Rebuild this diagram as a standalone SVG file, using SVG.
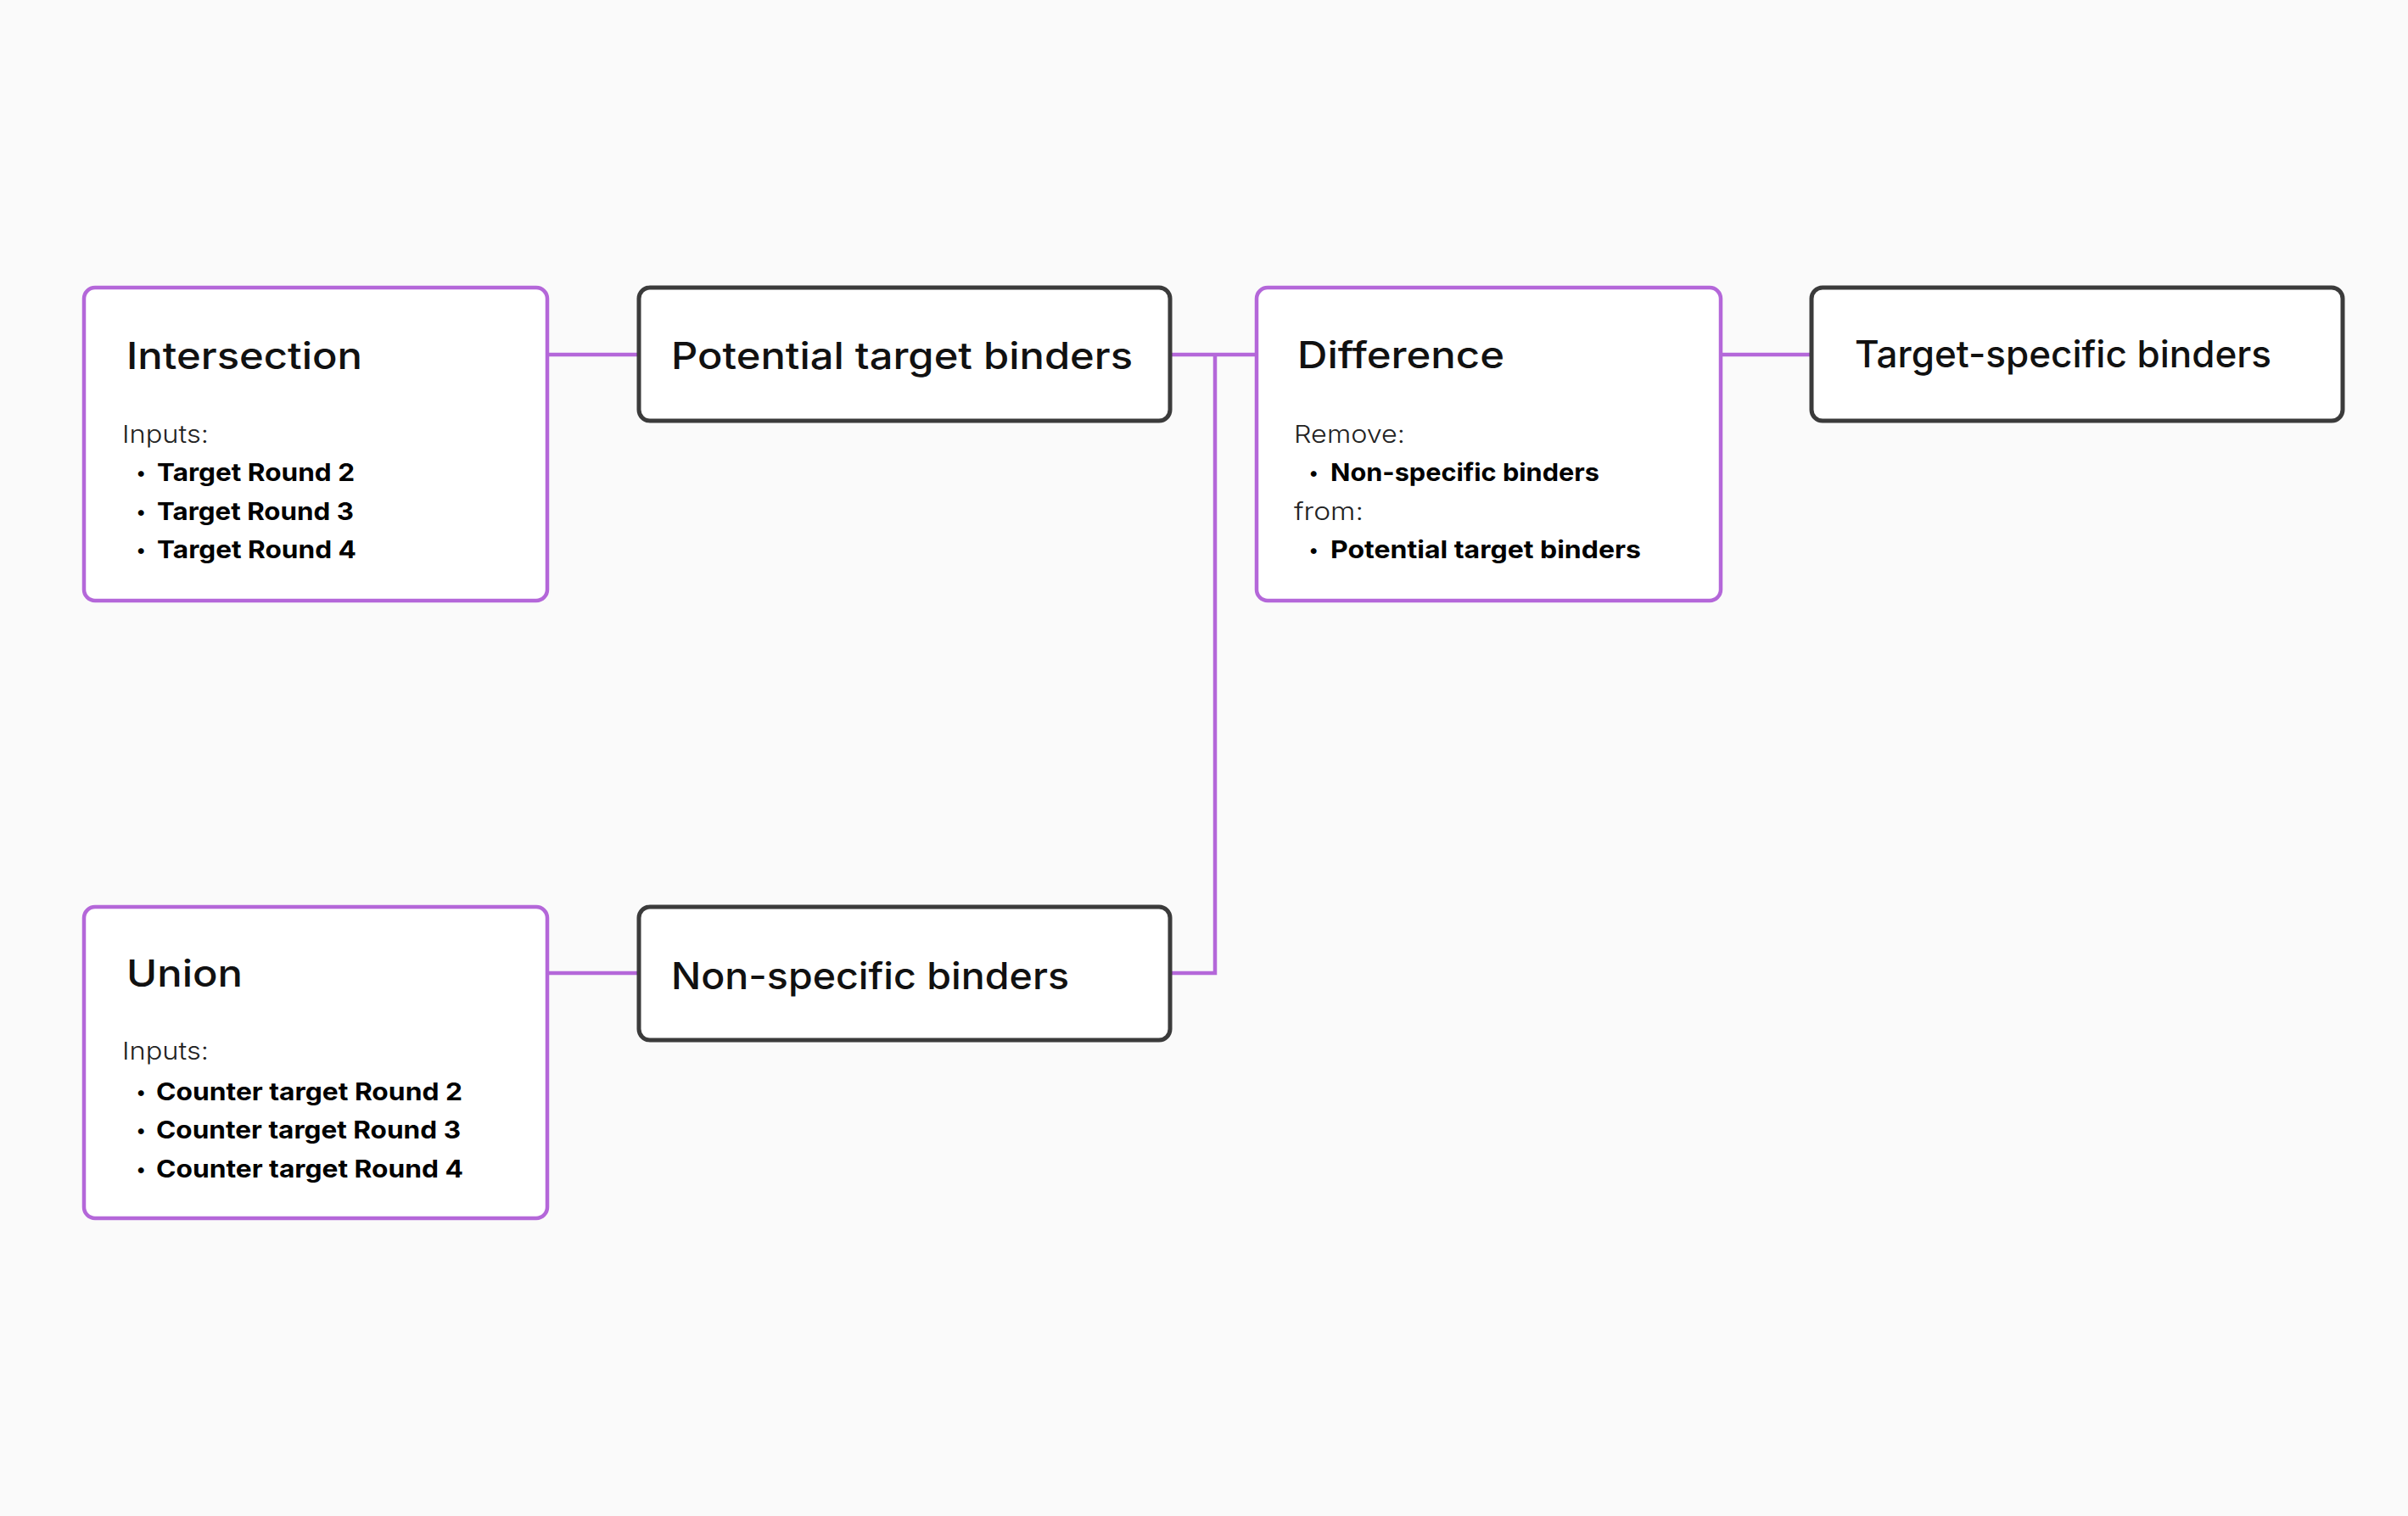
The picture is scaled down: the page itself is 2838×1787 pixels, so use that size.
<svg xmlns="http://www.w3.org/2000/svg" width="2838" height="1787" viewBox="0 0 2838 1787">
<style>
.op{fill:#ffffff;stroke:#b467d9;stroke-width:4.5}
.res{fill:#ffffff;stroke:#3b3b3b;stroke-width:5}
.conn{fill:none;stroke:#b467d9;stroke-width:4.5}
.title{font-family:Inter,"Open Sans","Liberation Sans",sans-serif;font-size:44px;font-weight:500;fill:#111}
.lbl{font-family:Inter,"Open Sans","Liberation Sans",sans-serif;font-size:29px;font-weight:300;fill:#222}
.item{font-family:Inter,"Open Sans","Liberation Sans",sans-serif;font-size:29px;font-weight:700;fill:#000}
.dot{font-family:Inter,"Open Sans","Liberation Sans",sans-serif;font-size:22px;font-weight:700;fill:#000}
</style>
<rect width="2838" height="1787" fill="#fafafa"/>
<g id="connectors">
<line class="conn" x1="645" y1="418" x2="753" y2="418"/>
<line class="conn" x1="1379" y1="418" x2="1481" y2="418"/>
<line class="conn" x1="2028" y1="418" x2="2135" y2="418"/>
<line class="conn" x1="645" y1="1147" x2="753" y2="1147"/>
<polyline class="conn" points="1379,1147 1432,1147 1432,418"/>
</g>
<g id="intersection">
<rect class="op" x="99" y="339" width="546" height="369" rx="13"/>
<text class="title" x="149" y="435" textLength="278" lengthAdjust="spacingAndGlyphs">Intersection</text>
<text class="lbl" x="144" y="522" textLength="102" lengthAdjust="spacingAndGlyphs">Inputs:</text>
<text class="dot" x="161" y="565">•</text>
<text class="item" x="185" y="567" textLength="233" lengthAdjust="spacingAndGlyphs">Target Round 2</text>
<text class="dot" x="161" y="611">•</text>
<text class="item" x="185" y="613" textLength="232" lengthAdjust="spacingAndGlyphs">Target Round 3</text>
<text class="dot" x="161" y="656">•</text>
<text class="item" x="185" y="658" textLength="235" lengthAdjust="spacingAndGlyphs">Target Round 4</text>
</g>
<g id="potential">
<rect class="res" x="753" y="339" width="626" height="157" rx="13"/>
<text class="title" x="791" y="435" textLength="544" lengthAdjust="spacingAndGlyphs">Potential target binders</text>
</g>
<g id="difference">
<rect class="op" x="1481" y="339" width="547" height="369" rx="13"/>
<text class="title" x="1529" y="434" textLength="244" lengthAdjust="spacingAndGlyphs">Difference</text>
<text class="lbl" x="1525" y="522" textLength="131" lengthAdjust="spacingAndGlyphs">Remove:</text>
<text class="dot" x="1543" y="565">•</text>
<text class="item" x="1568" y="567" textLength="317" lengthAdjust="spacingAndGlyphs">Non-specific binders</text>
<text class="lbl" x="1525" y="613" textLength="82" lengthAdjust="spacingAndGlyphs">from:</text>
<text class="dot" x="1543" y="656">•</text>
<text class="item" x="1568" y="658" textLength="366" lengthAdjust="spacingAndGlyphs">Potential target binders</text>
</g>
<g id="target-specific">
<rect class="res" x="2135" y="339" width="626" height="157" rx="13"/>
<text class="title" x="2186" y="433" textLength="491" lengthAdjust="spacingAndGlyphs">Target-specific binders</text>
</g>
<g id="union">
<rect class="op" x="99" y="1069" width="546" height="367" rx="13"/>
<text class="title" x="149" y="1163" textLength="137" lengthAdjust="spacingAndGlyphs">Union</text>
<text class="lbl" x="144" y="1249" textLength="102" lengthAdjust="spacingAndGlyphs">Inputs:</text>
<text class="dot" x="161" y="1295">•</text>
<text class="item" x="184" y="1297" textLength="361" lengthAdjust="spacingAndGlyphs">Counter target Round 2</text>
<text class="dot" x="161" y="1340">•</text>
<text class="item" x="184" y="1342" textLength="359" lengthAdjust="spacingAndGlyphs">Counter target Round 3</text>
<text class="dot" x="161" y="1386">•</text>
<text class="item" x="184" y="1388" textLength="362" lengthAdjust="spacingAndGlyphs">Counter target Round 4</text>
</g>
<g id="non-specific">
<rect class="res" x="753" y="1069" width="626" height="157" rx="13"/>
<text class="title" x="791" y="1166" textLength="469" lengthAdjust="spacingAndGlyphs">Non-specific binders</text>
</g>
</svg>
